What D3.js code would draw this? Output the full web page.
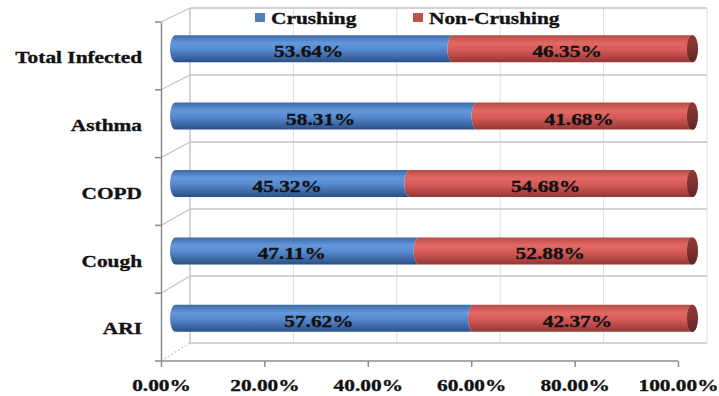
<!DOCTYPE html>
<html>
<head>
<meta charset="utf-8">
<script src="https://cdn.jsdelivr.net/npm/d3@7"></script>
<style>
  html, body { margin: 0; padding: 0; background: #fff; }
  svg text {
    font-family: "Liberation Serif", "Times New Roman", serif;
    font-weight: bold;
    fill: #111;
    stroke: #111;
    stroke-width: 0.35px;
  }
</style>
</head>
<body>
<svg id="chart" width="719" height="396"></svg>
<script>
// Categories listed top to bottom
const categories = ["Total Infected", "Asthma", "COPD", "Cough", "ARI"];
const crushing    = [53.64, 58.31, 45.32, 47.11, 57.62];
const nonCrushing = [46.35, 41.68, 54.68, 52.88, 42.37];
const xTicks = [0, 20, 40, 60, 80, 100];
const seriesNames = ["Crushing", "Non-Crushing"];

const svg = d3.select("#chart");
const stretch = 1.22;   // wide-set lettering
const fontSize = 17.5;

// Front plane and back wall of the 3D box
const front = { left: 161, right: 678, top: 22, bottom: 361 };
const back  = { left: 190, right: 707, top: 8, bottom: 343 };

const xFront = d3.scaleLinear().domain([0, 100]).range([front.left, front.right]);
const xBack  = d3.scaleLinear().domain([0, 100]).range([back.left, back.right]);
const xBar   = d3.scaleLinear().domain([0, 100])
  .range([(front.left + back.left) / 2, (front.right + back.right) / 2]);

const yFront = d3.scaleBand().domain(categories).range([front.top, front.bottom]);
const yBack  = d3.scaleBand().domain(categories).range([back.top, back.bottom]);

const gridColor = "#c4c4c4";
const axisColor = "#8c8c8c";

// Places a horizontally stretched label with its anchor at (x, y)
function label(g, x, y, anchor, txt) {
  return g.append("text")
    .attr("transform", `translate(${x},${y}) scale(${stretch},1)`)
    .attr("text-anchor", anchor)
    .attr("font-size", fontSize)
    .text(txt);
}

// Back wall vertical gridlines
svg.append("g").selectAll("line").data(xTicks).join("line")
  .attr("x1", d => xBack(d)).attr("x2", d => xBack(d))
  .attr("y1", back.top).attr("y2", back.bottom)
  .attr("stroke", (d, i) => i === 0 ? "#a8a8a8" : "#dedede")
  .attr("stroke-width", 1);

// Category divider lines: along the back wall, then diagonally to the front axis
const fY = i => i < categories.length ? yFront(categories[i]) : front.bottom;
const bY = i => i < categories.length ? yBack(categories[i]) : back.bottom;
const idx = d3.range(categories.length + 1);

svg.append("g").selectAll("line").data(idx).join("line")
  .attr("x1", back.left).attr("x2", back.right)
  .attr("y1", i => bY(i)).attr("y2", i => bY(i))
  .attr("stroke", gridColor).attr("stroke-width", 1.5);

svg.append("g").selectAll("line").data(idx).join("line")
  .attr("x1", front.left).attr("y1", i => fY(i))
  .attr("x2", back.left).attr("y2", i => bY(i))
  .attr("stroke", gridColor).attr("stroke-width", 1.2)
  .attr("stroke-dasharray", i => i === categories.length ? "2,2" : null);

// Gradients for the cylinders
const defs = svg.append("defs");
function grad(id, stops) {
  const g = defs.append("linearGradient").attr("id", id)
    .attr("x1", 0).attr("y1", 0).attr("x2", 0).attr("y2", 1);
  stops.forEach(([o, c]) => g.append("stop").attr("offset", o).attr("stop-color", c));
}
grad("gBlue", [[0, "#3d6aa8"], [0.3, "#6498dc"], [0.55, "#5587cc"], [1, "#2b4f86"]]);
grad("gRed",  [[0, "#b84a47"], [0.3, "#e36965"], [0.55, "#d65a57"], [1, "#953734"]]);
grad("gCap",  [[0, "#8e3a37"], [0.5, "#7d3230"], [1, "#5f2523"]]);

const r = 13.5;   // cylinder radius (screen)
const a = 5.5;    // horizontal radius of the end ellipses

const barCY = c => ((yFront(c) + yFront.bandwidth() / 2) + (yBack(c) + yBack.bandwidth() / 2)) / 2;

const rows = categories.map((c, i) => ({ cat: c, crush: crushing[i], non: nonCrushing[i] }));
const bars = svg.append("g").selectAll("g").data(rows).join("g");

// Non-crushing segment (right part) with its end face
bars.append("path")
  .attr("d", d => {
    const cy = barCY(d.cat), t = cy - r, b = cy + r;
    const xs = xBar(d.crush), xe = xBar(d.crush + d.non);
    return `M${xs},${t} L${xe},${t} A${a},${r} 0 0 1 ${xe},${b} L${xs},${b} A${a},${r} 0 0 1 ${xs},${t} Z`;
  })
  .attr("fill", "url(#gRed)");
bars.append("ellipse")
  .attr("cx", d => xBar(d.crush + d.non)).attr("cy", d => barCY(d.cat))
  .attr("rx", a).attr("ry", r)
  .attr("fill", "url(#gCap)");

// Crushing segment (left part)
bars.append("path")
  .attr("d", d => {
    const cy = barCY(d.cat), t = cy - r, b = cy + r;
    const xs = xBar(0), xe = xBar(d.crush);
    return `M${xs},${t} L${xe},${t} A${a},${r} 0 0 0 ${xe},${b} L${xs},${b} A${a},${r} 0 0 1 ${xs},${t} Z`;
  })
  .attr("fill", "url(#gBlue)");

// Value labels centred on each segment
bars.each(function (d) {
  const g = d3.select(this);
  const y = barCY(d.cat) + 8.5;
  label(g, (xBar(0) + xBar(d.crush)) / 2 - a, y, "middle", d.crush.toFixed(2) + "%");
  label(g, (xBar(d.crush) + xBar(d.crush + d.non)) / 2 - a, y, "middle", d.non.toFixed(2) + "%");
});

// Front category axis
const yAxis = svg.append("g").attr("transform", `translate(${front.left},0)`)
  .call(d3.axisLeft(yFront).tickSize(0).tickPadding(0).tickFormat(d => d));
yAxis.select(".domain").attr("stroke", axisColor).attr("stroke-width", 1.5);
yAxis.selectAll(".tick text")
  .attr("font-size", fontSize)
  .attr("font-family", null)
  .attr("fill", null)
  .attr("x", -19 / stretch)
  .attr("dy", "0.42em")
  .attr("transform", `scale(${stretch},1)`);
svg.append("g").selectAll("line").data(idx).join("line")
  .attr("x1", front.left - 6).attr("x2", front.left)
  .attr("y1", i => fY(i)).attr("y2", i => fY(i))
  .attr("stroke", axisColor).attr("stroke-width", 1.5);

// Front value axis
const xAxis = svg.append("g").attr("transform", `translate(0,${front.bottom})`)
  .call(d3.axisBottom(xFront).tickValues(xTicks).tickSize(6).tickPadding(11.5)
    .tickFormat(d => d.toFixed(2) + "%"));
xAxis.select(".domain").attr("stroke", axisColor).attr("stroke-width", 1.5)
  .attr("d", `M${front.left},0H${front.right}`);
xAxis.selectAll(".tick line").attr("stroke", axisColor).attr("stroke-width", 1.5);
xAxis.selectAll(".tick text")
  .attr("font-size", fontSize)
  .attr("font-family", null)
  .attr("fill", null)
  .attr("transform", `scale(${stretch},1)`);

// Legend
const legendX = [255, 413];
const legendFill = ["#4f81bd", "#c0504d"];
seriesNames.forEach((name, i) => {
  const g = svg.append("g").attr("transform", `translate(${legendX[i]},13)`);
  g.append("rect").attr("width", 10).attr("height", 9).attr("fill", legendFill[i]);
  label(g, 16, 10.5, "start", name);
});
</script>
</body>
</html>
